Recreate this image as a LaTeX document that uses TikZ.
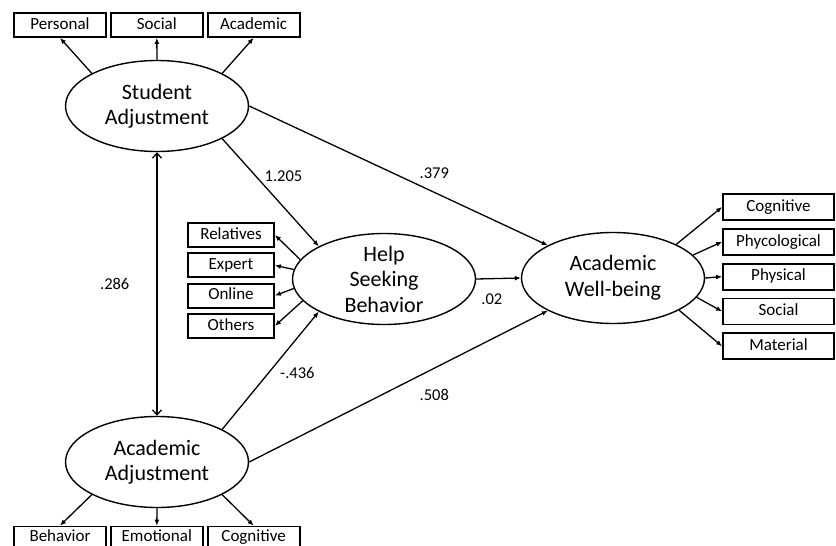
\documentclass[tikz,border=0pt]{standalone}
\usepackage{fontspec}
\setmainfont{Carlito}
\usetikzlibrary{shapes.geometric,arrows.meta,positioning}

\tikzset{
  latent/.style={draw, ellipse, line width=1.4pt, minimum width=183pt, minimum height=91pt,
    inner xsep=0pt, inner ysep=-8pt, align=center, font=\fontsize{22}{25.5}\selectfont},
  ind/.style={draw, rectangle, line width=1.8pt, minimum height=24pt, minimum width=92pt,
    inner sep=0pt, text height=12pt, text depth=3.5pt, font=\fontsize{17}{20}\selectfont},
  coef/.style={font=\fontsize{16.5}{20}\selectfont, inner sep=0pt},
  path/.style={line width=1.3pt, -{Latex[length=6pt,width=5pt]}},
  dbl/.style={line width=1.3pt, {Straight Barb[length=5pt,width=9pt]}-{Straight Barb[length=5pt,width=9pt]}},
}

\begin{document}
\begin{tikzpicture}[x=1pt,y=-1pt]
  \useasboundingbox (0,0) rectangle (836,546);

  % latent variables
  \node[latent] (SA)  at (157,106) {Student\\Adjustment};
  \node[latent] (AA)  at (157,462) {Academic\\Adjustment};
  \node[latent] (HSB) at (384,279) {Help\\Seeking\\Behavior};
  \node[latent] (AWB) at (613,278) {Academic\\Well-being};

  % indicators of student adjustment
  \node[ind] (pers) at (60,25) {Personal};
  \node[ind] (soc) [right=3pt of pers] {Social};
  \node[ind] (acad) [right=3pt of soc] {Academic};

  % indicators of academic adjustment
  \node[ind, minimum height=22pt] (beh) at (60,537.5) {Behavior};
  \node[ind, minimum height=22pt] (emo) [right=3pt of beh] {Emotional};
  \node[ind, minimum height=22pt] (cogA) [right=3pt of emo] {Cognitive};

  % indicators of help seeking
  \node[ind, minimum width=86pt] (rel) at (231,235) {Relatives};
  \node[ind, minimum width=86pt] (exp) [below=4.5pt of rel] {Expert};
  \node[ind, minimum width=86pt] (onl) [below=4.5pt of exp] {Online};
  \node[ind, minimum width=86pt] (oth) [below=4.5pt of onl] {Others};

  % indicators of well-being
  \node[ind, minimum width=111pt, minimum height=26pt] (cogW) at (778.5,207) {Cognitive};
  \node[ind, minimum width=111pt, minimum height=26pt] (psy) [below=7pt of cogW] {Phycological};
  \node[ind, minimum width=111pt, minimum height=26pt] (phy) [below=7pt of psy] {Physical};
  \node[ind, minimum width=111pt, minimum height=26pt] (socW) [below=7pt of phy] {Social};
  \node[ind, minimum width=111pt, minimum height=26pt] (mat) [below=7pt of socW] {Material};

  \path[path]
    (SA.north west) edge (pers.south)
    (SA.north) edge (soc.south)
    (SA.north east) edge (acad.south)
    (AA.south west) edge (beh.north)
    (AA.south) edge (emo.north)
    (AA.south east) edge (cogA.north)
    (HSB.167) edge (rel.east)
    (HSB.174) edge (exp.east)
    (HSB.186) edge (onl.east)
    (HSB.195) edge (oth.east)
    (AWB.28) edge (cogW.west)
    (AWB.16) edge (psy.west)
    (AWB.east) edge (phy.west)
    (AWB.-13) edge (socW.west)
    (AWB.-26) edge (mat.west);

  % structural paths
  \path[path]
    (SA.south east) edge node[coef, pos=.35, right=8pt] {1.205} (HSB.north west)
    (SA.east) edge node[coef, pos=.62, above=13pt] {.379} (AWB.north west)
    (HSB.east) edge node[coef, pos=.35, below=14pt] {.02} (AWB.west)
    (AA.north east) edge node[coef, pos=.48, right=11pt] {-.436} (HSB.south west)
    (AA.east) edge node[coef, pos=.62, below=20pt] {.508} (AWB.south west);
  \draw[dbl] (SA.south) -- node[coef, left=27pt] {.286} (AA.north);
\end{tikzpicture}
\end{document}
